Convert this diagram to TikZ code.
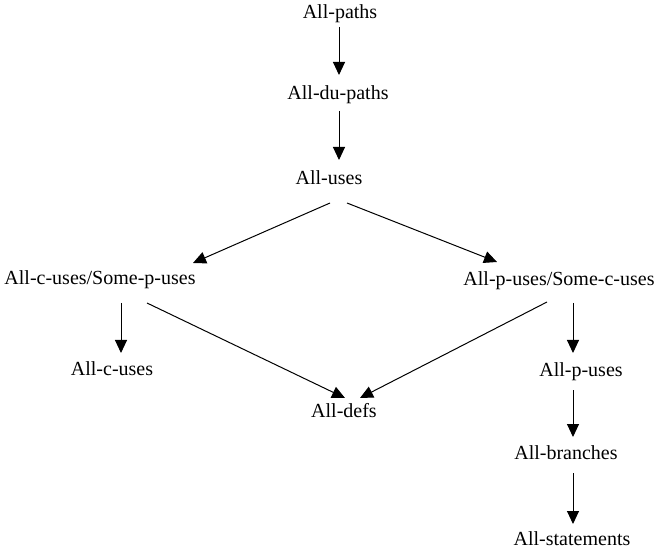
\documentclass[tikz,border=0pt]{standalone}
\usepackage{fontspec}
\setmainfont{Liberation Serif}
\usetikzlibrary{arrows.meta}
\begin{document}
\begin{tikzpicture}[x=1pt,y=-1pt,
  crit/.style={inner sep=0pt,font=\fontsize{20}{24}\selectfont,text height=13pt,text depth=4pt},
  arr/.style={line width=1pt,-{Triangle[length=13pt,width=12pt]}}]
\useasboundingbox (0,0) rectangle (656,553);
% coverage criteria
\node[crit] (ap)  at (340,14)  {All-paths};
\node[crit] (adp) at (338,95)  {All-du-paths};
\node[crit] (au)  at (329,180) {All-uses};
\node[crit] (cs)  at (100,280) {All-c-uses/Some-p-uses};
\node[crit] (ps)  at (559,281) {All-p-uses/Some-c-uses};
\node[crit] (cu)  at (112,371) {All-c-uses};
\node[crit] (ad)  at (344,413) {All-defs};
\node[crit] (pu)  at (581,372) {All-p-uses};
\node[crit] (ab)  at (566,455) {All-branches};
\node[crit] (ast) at (572,541) {All-statements};
% subsumption arrows
\draw[arr] ([shift={(-1,13)}]ap.center)  -- ([shift={(1,-20)}]adp.center);
\draw[arr] ([shift={(1,16)}]adp.center)  -- ([shift={(10,-20)}]au.center);
\draw[arr] ([shift={(1,23)}]au.center)   -- ([shift={(93,-17)}]cs.center);
\draw[arr] ([shift={(18,23)}]au.center)  -- ([shift={(-62,-19)}]ps.center);
\draw[arr] ([shift={(21,23)}]cs.center)  -- ([shift={(9,-18)}]cu.center);
\draw[arr] ([shift={(47,23)}]cs.center)  -- ([shift={(1,-15)}]ad.center);
\draw[arr] ([shift={(-12,21)}]ps.center) -- ([shift={(16,-15)}]ad.center);
\draw[arr] ([shift={(14,22)}]ps.center)  -- ([shift={(-8,-19)}]pu.center);
\draw[arr] ([shift={(-8,18)}]pu.center)  -- ([shift={(7,-18)}]ab.center);
\draw[arr] ([shift={(7,18)}]ab.center)   -- ([shift={(1,-17)}]ast.center);
\end{tikzpicture}
\end{document}
